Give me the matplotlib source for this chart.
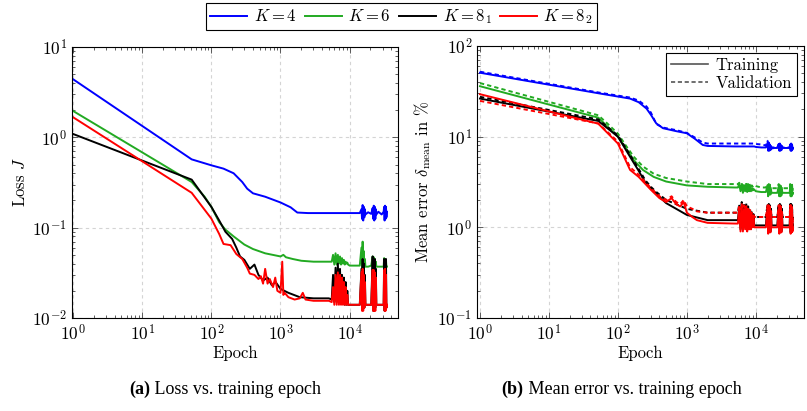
import matplotlib
matplotlib.use("Agg")
import matplotlib.pyplot as plt
from matplotlib.lines import Line2D
from matplotlib.ticker import LogLocator, NullFormatter

plt.rcParams['font.family'] = ['cmr10']
plt.rcParams['mathtext.fontset'] = 'cm'
plt.rcParams['axes.formatter.use_mathtext'] = True
plt.rcParams['axes.unicode_minus'] = False

# shared epochs for the noisy tail of every run
noise_ep = [5500, 5750, 6000, 6250, 6500, 6750, 7000, 7250, 7500, 7750, 8000, 8250, 8500,
            8750, 9000, 9250, 9500,
            10000, 12000, 14000,
            14800, 15100, 15400, 15700, 16000, 16300, 16600, 16900,
            18500, 20500,
            21500, 21900, 22300, 22700, 23100, 23500, 23900, 24300,
            26000, 29000,
            31000, 31500, 32000, 32500, 33000, 33500, 34000, 34500]

# ---- (a) loss ----
blue_loss_ep = [1, 52, 100, 150, 210, 280, 330, 400, 600, 1000, 1400, 1750, 2500, 5000]
blue_loss = [4.4, 0.57, 0.49, 0.45, 0.40, 0.32, 0.27, 0.24, 0.22, 0.19, 0.168, 0.147, 0.145, 0.145]
blue_loss_noise = ([0.145] * 17 + [0.145, 0.145, 0.145]
                   + [0.16, 0.125, 0.178, 0.12, 0.17, 0.13, 0.16, 0.14] + [0.148, 0.142]
                   + [0.165, 0.125, 0.175, 0.12, 0.17, 0.125, 0.16, 0.14] + [0.15, 0.14]
                   + [0.15, 0.17, 0.12, 0.175, 0.125, 0.17, 0.13, 0.15])

green_loss_ep = [1, 52, 80, 100, 130, 160, 210, 300, 400, 600, 1000, 1100, 1200, 1500, 2000, 3000, 5000]
green_loss = [1.96, 0.32, 0.22, 0.17, 0.115, 0.095, 0.080, 0.065, 0.058, 0.052, 0.048, 0.05,
              0.047, 0.045, 0.043, 0.042, 0.042]
green_loss_noise = ([0.042, 0.05, 0.039, 0.052, 0.039, 0.05, 0.04, 0.048, 0.039, 0.046, 0.04,
                     0.044, 0.039, 0.042, 0.04, 0.041, 0.039] + [0.038, 0.038, 0.038]
                    + [0.06, 0.036, 0.07, 0.036, 0.055, 0.037, 0.045, 0.037] + [0.037, 0.038]
                    + [0.048, 0.036, 0.047, 0.036, 0.045, 0.037, 0.042, 0.037] + [0.037, 0.037]
                    + [0.037, 0.046, 0.036, 0.045, 0.036, 0.044, 0.037, 0.037])

black_loss_ep = [1, 52, 100, 130, 160, 200, 230, 260, 300, 360, 420, 480, 560, 650, 750, 850,
                 1000, 1300, 1900, 3000, 5000]
black_loss = [1.09, 0.34, 0.17, 0.12, 0.09, 0.075, 0.060, 0.048, 0.044, 0.035, 0.039, 0.030,
              0.026, 0.028, 0.023, 0.025, 0.021, 0.019, 0.017, 0.0165, 0.0165]
black_loss_noise = ([0.016, 0.03, 0.015, 0.036, 0.015, 0.04, 0.015, 0.035, 0.015, 0.03, 0.015,
                     0.028, 0.014, 0.025, 0.014, 0.02, 0.014] + [0.014, 0.014, 0.014]
                    + [0.035, 0.013, 0.045, 0.013, 0.04, 0.013, 0.03, 0.014] + [0.014, 0.014]
                    + [0.048, 0.012, 0.042, 0.012, 0.045, 0.013, 0.035, 0.014] + [0.014, 0.014]
                    + [0.014, 0.045, 0.012, 0.04, 0.013, 0.045, 0.013, 0.014])

red_loss_ep = [1, 52, 100, 130, 150, 190, 230, 280, 330, 360, 420, 480, 520, 560, 600, 650, 700,
               780, 840, 900, 1000, 1060, 1100, 1150, 1300, 1600, 1900, 2100, 2300, 3000, 5000]
red_loss = [1.67, 0.243, 0.126, 0.085, 0.066, 0.064, 0.051, 0.045, 0.036, 0.031, 0.030, 0.027,
            0.029, 0.024, 0.035, 0.024, 0.027, 0.022, 0.028, 0.020, 0.019, 0.042, 0.018, 0.019,
            0.017, 0.016, 0.0165, 0.019, 0.016, 0.0155, 0.0155]
red_loss_noise = ([0.015, 0.022, 0.014, 0.03, 0.014, 0.032, 0.014, 0.03, 0.014, 0.028, 0.014,
                   0.025, 0.014, 0.022, 0.014, 0.018, 0.014] + [0.014, 0.014, 0.014]
                  + [0.032, 0.012, 0.035, 0.012, 0.03, 0.013, 0.025, 0.014] + [0.014, 0.014]
                  + [0.034, 0.012, 0.034, 0.012, 0.032, 0.012, 0.028, 0.014] + [0.014, 0.014]
                  + [0.014, 0.034, 0.012, 0.035, 0.012, 0.03, 0.013, 0.014])

# ---- (b) mean error in % ----
blue_err_ep = [1, 55, 150, 200, 260, 300, 360, 450, 700, 1000, 1300, 1700, 2000, 5000]
blue_tr = [50.7, 29.9, 26.3, 24, 20.4, 17.5, 14, 12.4, 11.5, 10.9, 9.5, 8.1, 7.9, 7.8]
blue_va = [52, 30.5, 27, 25, 21.5, 18.5, 13.8, 12.6, 11.8, 11, 9.8, 8.6, 8.4, 8.4]
blue_tr_noise = ([7.8] * 17 + [7.7, 7.6, 7.6]
                 + [8.4, 7.0, 8.5, 7.0, 8.2, 7.1, 7.9, 7.4] + [7.5, 7.5]
                 + [8.2, 7.0, 8.3, 7.0, 8.1, 7.1, 7.8, 7.5] + [7.5, 7.5]
                 + [7.5, 8.2, 7.0, 8.3, 7.0, 8.1, 7.2, 7.5])
blue_va_noise = ([8.4] * 17 + [8.3, 8.2, 8.0]
                 + [9.0, 7.2, 8.6, 7.2, 8.3, 7.3, 7.9, 7.6] + [7.6, 7.6]
                 + [8.3, 7.1, 8.4, 7.1, 8.2, 7.2, 7.9, 7.6] + [7.6, 7.6]
                 + [7.6, 8.3, 7.1, 8.4, 7.1, 8.2, 7.3, 7.6])

green_err_ep = [1, 52, 70, 100, 130, 170, 230, 330, 500, 1000, 2000, 5000]
green_tr = [36, 16.2, 13, 10, 7.5, 5.5, 4.3, 3.6, 3.2, 2.9, 2.8, 2.75]
green_va = [39, 17.2, 14, 10.8, 8, 6, 4.7, 3.9, 3.5, 3.2, 3.0, 3.0]
green_tr_noise = ([2.75, 3.0, 2.5, 3.0, 2.4, 2.9, 2.5, 3.0, 2.45, 2.9, 2.5, 2.8, 2.5, 2.7, 2.55,
                   2.65, 2.6] + [2.5, 2.45, 2.45]
                  + [2.9, 2.2, 2.9, 2.3, 2.8, 2.3, 2.6, 2.4] + [2.4, 2.4]
                  + [2.8, 2.2, 2.8, 2.2, 2.75, 2.25, 2.6, 2.4] + [2.4, 2.4]
                  + [2.4, 2.8, 2.2, 2.8, 2.2, 2.75, 2.3, 2.4])
green_va_noise = ([3.0, 3.1, 2.7, 3.1, 2.6, 3.0, 2.7, 3.1, 2.65, 3.0, 2.7, 2.95, 2.75, 2.9, 2.8,
                   2.9, 2.9] + [2.85, 2.75, 2.75]
                  + [3.0, 2.4, 3.0, 2.5, 2.95, 2.5, 2.8, 2.7] + [2.7, 2.7]
                  + [3.0, 2.4, 3.0, 2.4, 2.95, 2.45, 2.8, 2.7] + [2.7, 2.7]
                  + [2.7, 3.0, 2.4, 3.0, 2.4, 2.95, 2.5, 2.7])

black_err_ep = [1, 52, 100, 150, 200, 250, 300, 350, 500, 700, 1000, 2000, 5000]
black_tr = [26.3, 14.9, 10, 6, 4.2, 3.1, 2.7, 2.4, 1.85, 1.6, 1.37, 1.2, 1.2]
black_va = [27.5, 15.5, 10.3, 6.3, 4.4, 3.3, 2.8, 2.5, 2.0, 1.8, 1.6, 1.45, 1.45]
black_tr_noise = ([1.2, 1.7, 0.95, 1.8, 0.95, 1.7, 1.0, 1.75, 0.95, 1.6, 1.0, 1.5, 1.0, 1.4,
                   1.05, 1.3, 1.05] + [1.05, 1.05, 1.05]
                  + [1.7, 0.88, 1.8, 0.9, 1.7, 0.9, 1.5, 1.05] + [1.05, 1.05]
                  + [1.7, 0.88, 1.8, 0.9, 1.7, 0.9, 1.5, 1.05] + [1.05, 1.05]
                  + [1.05, 1.75, 0.88, 1.8, 0.9, 1.7, 0.95, 1.05])
black_va_noise = ([1.45, 1.8, 1.1, 1.9, 1.1, 1.8, 1.15, 1.85, 1.1, 1.7, 1.15, 1.6, 1.2, 1.5,
                   1.25, 1.4, 1.3] + [1.3, 1.3, 1.3]
                  + [1.8, 1.0, 1.8, 1.0, 1.75, 1.05, 1.6, 1.3] + [1.3, 1.3]
                  + [1.8, 1.0, 1.8, 1.0, 1.75, 1.05, 1.6, 1.3] + [1.3, 1.3]
                  + [1.3, 1.8, 1.0, 1.8, 1.0, 1.75, 1.05, 1.3])

red_err_ep = [1, 52, 100, 150, 200, 300, 400, 500, 600, 700, 800, 900, 1000, 1200, 1400, 2000, 5000]
red_tr = [29.4, 13.9, 8.4, 4.3, 3.6, 2.6, 2.1, 1.9, 2.1, 1.8, 1.7, 1.9, 1.45, 1.3, 1.2, 1.12, 1.1]
red_va = [24.8, 14, 8.8, 4.6, 3.8, 2.7, 2.2, 2.0, 2.2, 1.9, 1.8, 2.0, 1.7, 1.6, 1.5, 1.45, 1.45]
red_tr_noise = ([1.1, 1.6, 0.9, 1.7, 0.9, 1.6, 0.95, 1.65, 0.9, 1.55, 0.95, 1.45, 0.95, 1.35,
                 1.0, 1.25, 1.0] + [1.0, 1.0, 1.0]
                + [1.6, 0.85, 1.7, 0.88, 1.6, 0.88, 1.4, 1.0] + [1.0, 1.0]
                + [1.6, 0.85, 1.7, 0.88, 1.6, 0.88, 1.4, 1.0] + [1.0, 1.0]
                + [1.0, 1.6, 0.85, 1.7, 0.88, 1.6, 0.9, 1.0])
red_va_noise = ([1.45, 1.75, 1.1, 1.85, 1.1, 1.75, 1.15, 1.8, 1.1, 1.65, 1.15, 1.55, 1.2, 1.45,
                 1.25, 1.4, 1.3] + [1.3, 1.3, 1.3]
                + [1.75, 1.0, 1.75, 1.0, 1.7, 1.05, 1.55, 1.3] + [1.3, 1.3]
                + [1.75, 1.0, 1.75, 1.0, 1.7, 1.05, 1.55, 1.3] + [1.3, 1.3]
                + [1.3, 1.75, 1.0, 1.75, 1.0, 1.7, 1.05, 1.3])

labels = ['$K = 4$', '$K = 6$', '$K = 8_1$', '$K = 8_2$']
colors = ['#0000ff', '#22aa22', '#000000', '#ff0000']

fig = plt.figure(figsize=(8.07, 4.11), dpi=100)
ax1 = fig.add_axes([0.0892, 0.2263, 0.404, 0.6594])
ax2 = fig.add_axes([0.5911, 0.2263, 0.4052, 0.6618])

lw = 1.4
dash = (2.2, 1.6)

loss_runs = [(blue_loss_ep, blue_loss, blue_loss_noise),
             (green_loss_ep, green_loss, green_loss_noise),
             (black_loss_ep, black_loss, black_loss_noise),
             (red_loss_ep, red_loss, red_loss_noise)]
for (ep, v, nz), c in zip(loss_runs, colors):
    ax1.plot(ep + noise_ep, v + nz, color=c, lw=lw)

err_runs = [(blue_err_ep, blue_tr, blue_va, blue_tr_noise, blue_va_noise),
            (green_err_ep, green_tr, green_va, green_tr_noise, green_va_noise),
            (black_err_ep, black_tr, black_va, black_tr_noise, black_va_noise),
            (red_err_ep, red_tr, red_va, red_tr_noise, red_va_noise)]
for (ep, tr, va, trn, van), c in zip(err_runs, colors):
    ax2.plot(ep + noise_ep, va + van, color=c, lw=lw, linestyle='--', dashes=dash)
    ax2.plot(ep + noise_ep, tr + trn, color=c, lw=lw)

for ax in (ax1, ax2):
    ax.set_xscale('log')
    ax.set_yscale('log')
    ax.xaxis.set_major_locator(LogLocator(base=10, numticks=10))
    ax.xaxis.set_minor_locator(LogLocator(base=10, subs=range(2, 10), numticks=20))
    ax.yaxis.set_minor_locator(LogLocator(base=10, subs=range(2, 10), numticks=20))
    ax.xaxis.set_minor_formatter(NullFormatter())
    ax.yaxis.set_minor_formatter(NullFormatter())
    ax.tick_params(which='both', direction='in', top=True, right=True, labelsize=12.5,
                   color='#444444', width=0.6)
    ax.tick_params(which='major', length=4)
    ax.tick_params(which='minor', length=2)
    ax.grid(True, which='major', color='#d4d4d4', linestyle=(0, (3, 3)), lw=0.8)
    ax.set_axisbelow(True)
    for s in ax.spines.values():
        s.set_linewidth(0.8)
    ax.set_xlabel('Epoch', fontsize=12, labelpad=2)

ax1.set_xlim(0.967, 5e4)
ax1.set_ylim(1e-2, 1e1)
ax1.set_ylabel('Loss $J$', fontsize=12, labelpad=3)

ax2.set_xlim(0.905, 5e4)
ax2.set_ylim(1e-1, 1e2)
ax2.set_ylabel(r'Mean error $\delta_{\mathrm{mean}}$ in %', fontsize=12, labelpad=3)

style_handles = [Line2D([], [], color='#555555', lw=1.2),
                 Line2D([], [], color='#555555', lw=1.2, linestyle='--', dashes=(2.5, 1.6))]
leg2 = ax2.legend(style_handles, ['Training', 'Validation'], loc='upper right',
                  fontsize=12, frameon=True, fancybox=False, edgecolor='black',
                  framealpha=1, handlelength=2.2, borderpad=0.3, labelspacing=0.15,
                  handletextpad=0.5, borderaxespad=0.4)
leg2.get_frame().set_linewidth(0.8)

handles = [Line2D([], [], color=c, lw=1.4) for c in colors]
leg = fig.legend(handles, labels, loc='center', bbox_to_anchor=(0.4975, 0.959), ncol=4,
                 fontsize=12, frameon=True, fancybox=False, edgecolor='black', framealpha=1,
                 handlelength=2.2, columnspacing=0.5, handletextpad=0.4, borderpad=0.25)
leg.get_frame().set_linewidth(0.8)

# sub captions: bold tag + normal text, centred as a whole
renderer = fig.canvas.get_renderer()
fw = fig.bbox.width
for cx, tag, rest in [(0.279, '(a)', ' Loss vs. training epoch'),
                      (0.770, '(b)', ' Mean error vs. training epoch')]:
    t1 = fig.text(0, 0.053, tag, fontsize=13, family='Liberation Serif', weight='bold',
                  va='center', ha='left')
    t2 = fig.text(0, 0.053, rest, fontsize=13, family='Liberation Serif',
                  va='center', ha='left')
    w1 = t1.get_window_extent(renderer).width / fw
    w2 = t2.get_window_extent(renderer).width / fw
    x0 = cx - (w1 + w2) / 2
    t1.set_x(x0)
    t2.set_x(x0 + w1)

fig.savefig('out.png', dpi=100)
